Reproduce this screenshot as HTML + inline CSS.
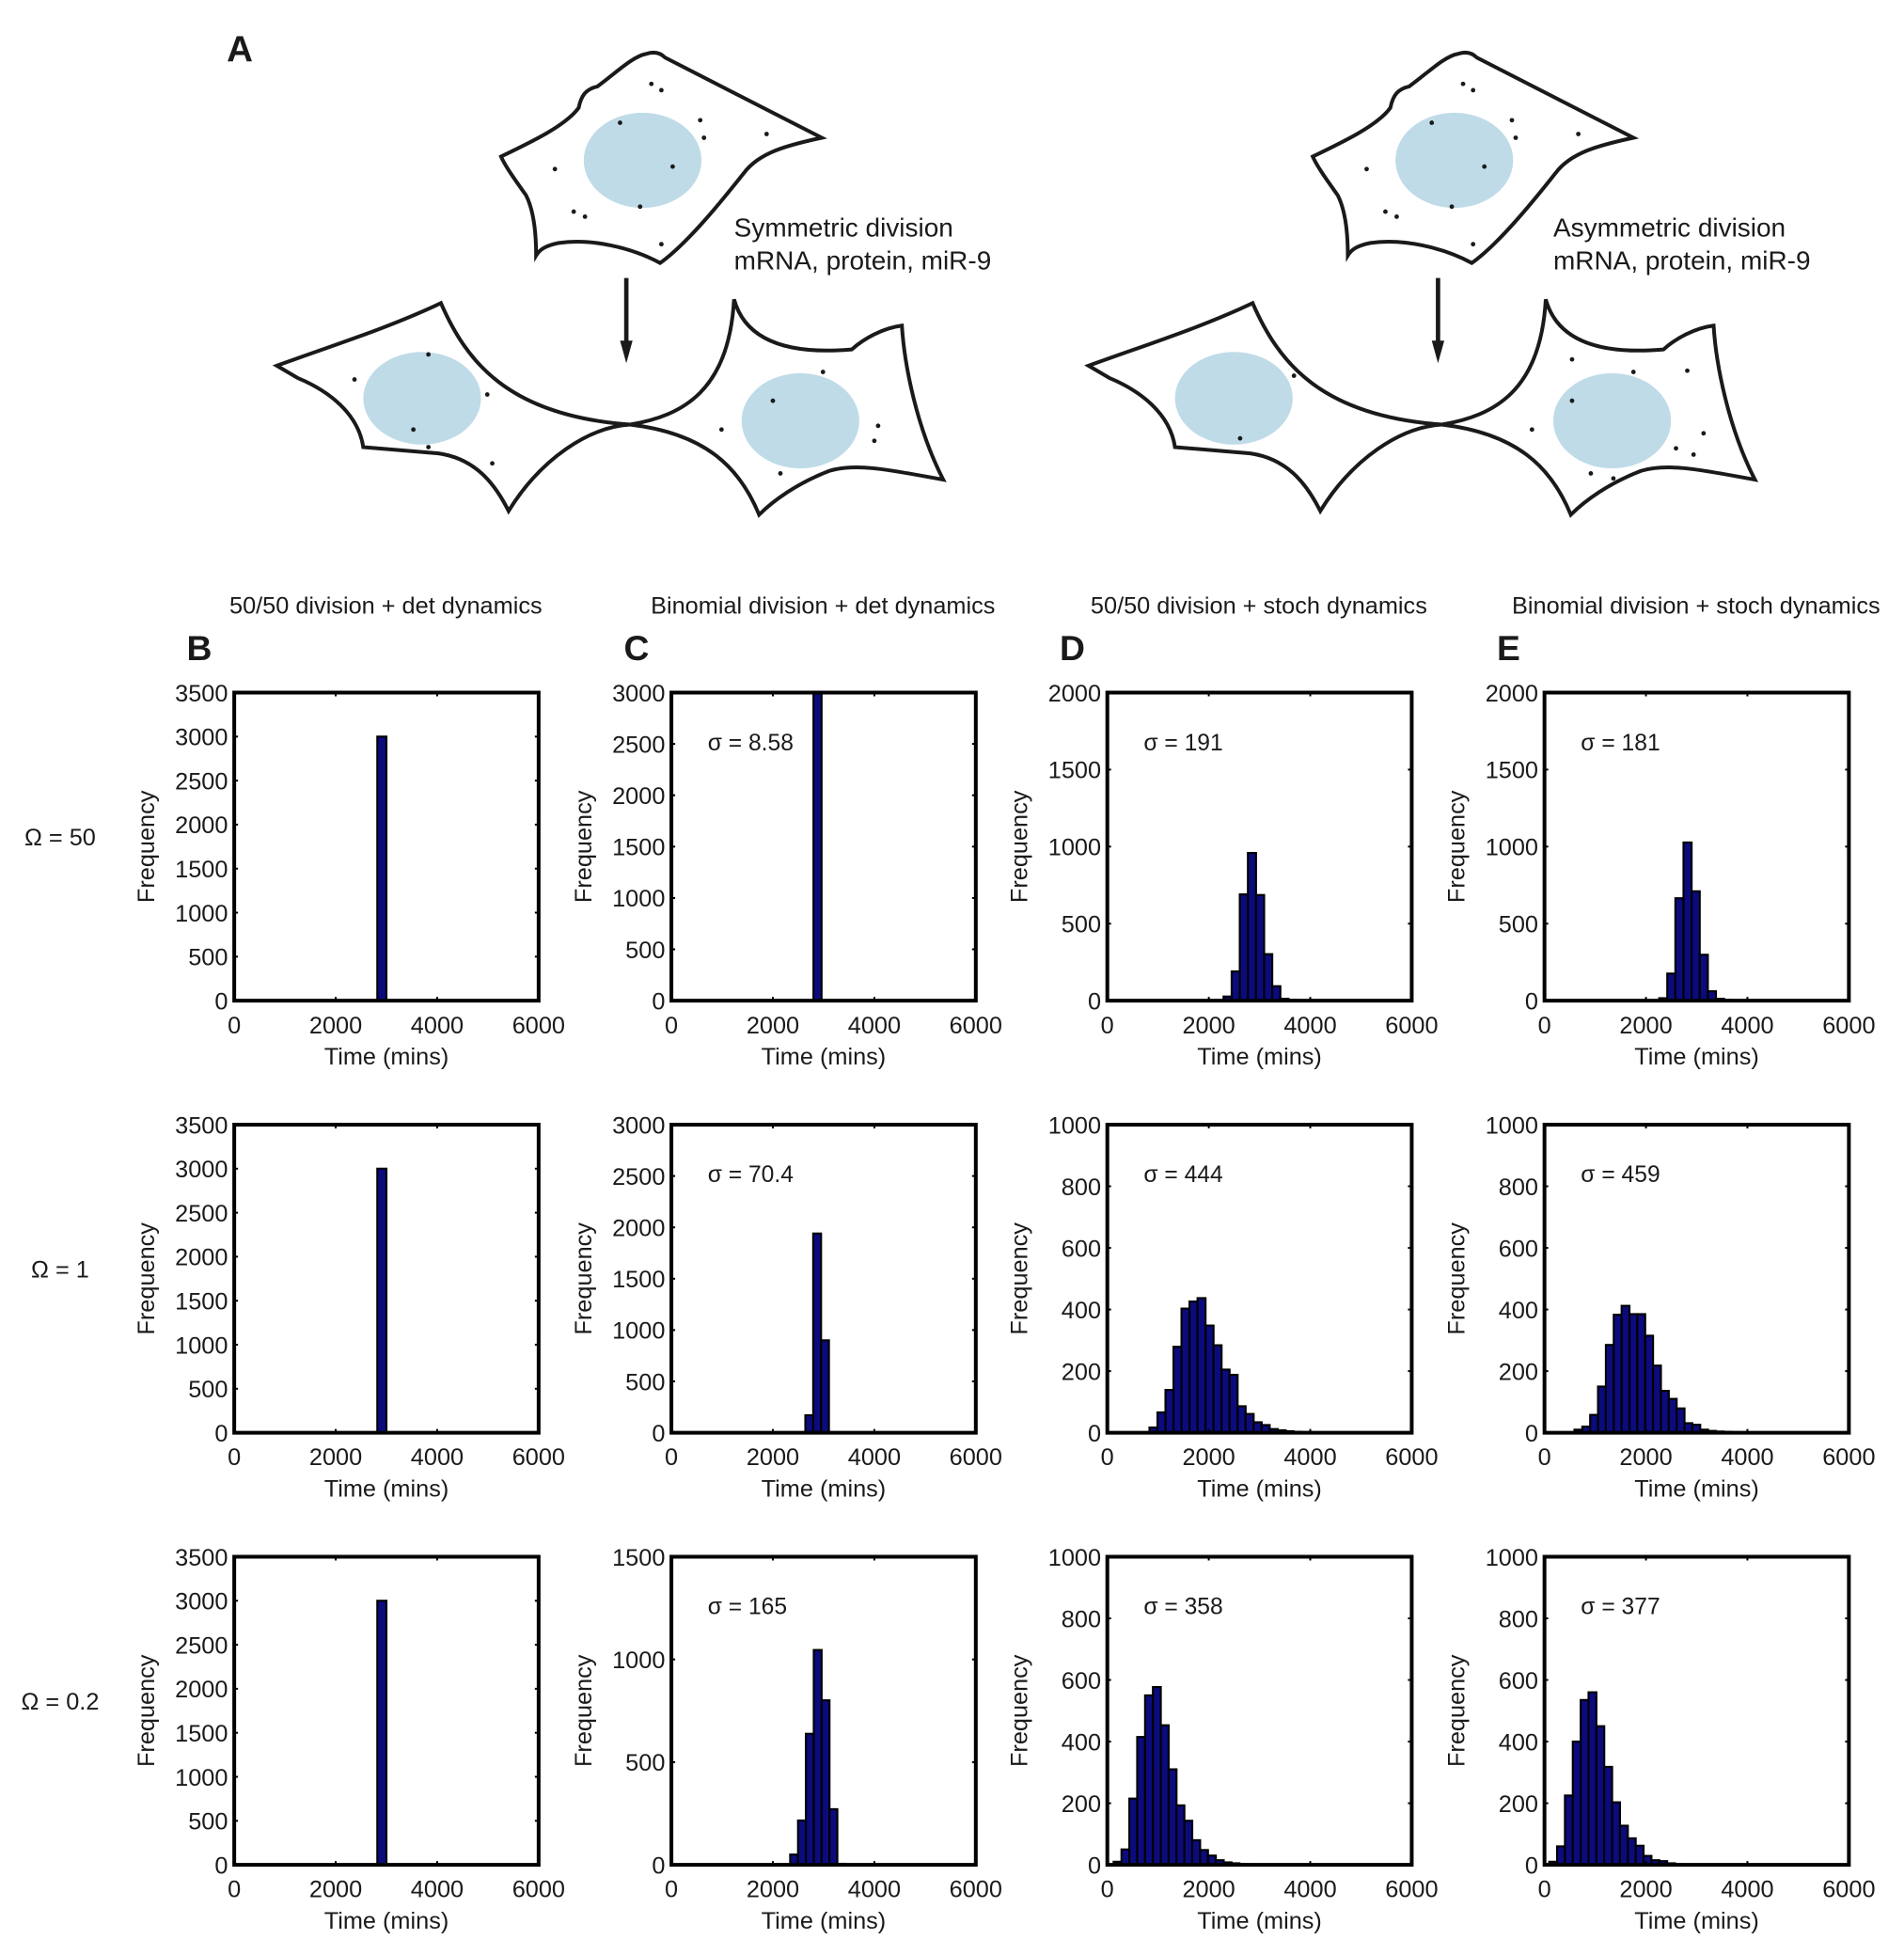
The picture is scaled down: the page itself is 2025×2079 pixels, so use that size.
<!DOCTYPE html>
<html><head><meta charset="utf-8"><style>
html,body{margin:0;padding:0;background:#fff;}
svg{display:block;}
text{font-family:"Liberation Sans",Arial,sans-serif;fill:#1a1a1a;}
</style></head><body>
<svg id="fig" width="2025" height="2079" viewBox="0 0 1520 1561" preserveAspectRatio="none" xmlns="http://www.w3.org/2000/svg">
<rect width="1520" height="1561" fill="#fff"/>
<text x="181" y="49" font-size="29" font-weight="bold">A</text>

<g id="sym" fill="#fff" stroke="#1a1a1a" stroke-width="3">
  <path d="M400,125 C425,113 452,100 462,86 C464,76 468,71 477,69 C492,58 505,45 516,43 C522,41 527,42 531,46 L656,110 C628,116 606,122 594,138 C575,162 548,195 527,210 C505,198 472,190 446,194 C436,196 431,199 428,204 C428,182 425,166 420,156 C410,142 403,132 400,125 Z"/>
  <ellipse cx="513" cy="128" rx="47" ry="38" fill="#bfdbe8" stroke="none"/>
  <path d="M221,292 C262,277 310,262 352,242 C372,288 405,332 503,339 C470,341 432,366 406,408 C394,384 378,366 350,362 L290,357 C286,330 262,312 238,302 Z"/>
  <ellipse cx="337" cy="318" rx="47" ry="37" fill="#bfdbe8" stroke="none"/>
  <path d="M503,339 C545,332 582,312 586,239 C594,268 622,284 680,279 C690,270 705,262 720,260 C722,292 732,342 753,383 C705,374 682,370 662,376 C636,386 617,400 606,411 C590,372 562,346 503,339 Z"/>
  <ellipse cx="639" cy="336" rx="47" ry="38" fill="#bfdbe8" stroke="none"/>
  <line x1="500" y1="222" x2="500" y2="275" stroke-width="3.5"/>
  <polygon points="495,272 505,272 500,290" fill="#1a1a1a" stroke="none"/>
</g>
<g id="symdots" fill="#1a1a1a"></g>
<text x="586" y="189" font-size="21">Symmetric division</text>
<text x="586" y="215" font-size="21">mRNA, protein, miR-9</text>

<use href="#sym" x="648" y="0"/>
<g id="asymdots" fill="#1a1a1a"></g>
<text x="1240" y="189" font-size="21">Asymmetric division</text>
<text x="1240" y="215" font-size="21">mRNA, protein, miR-9</text>

<g id="charts"></g>
</svg>
<script>
// ---- Panel A dots ----
const symDots = [[520,67],[528,72],[495,98],[559,96],[562,110],[612,107],[443,135],[537,133],[458,169],[467,173],[511,165],[528,195],
 [342,283],[283,303],[389,315],[330,343],[342,357],[393,370],[657,297],[617,320],[576,343],[701,340],[698,352],[623,378]];
const asymDots = [[1168,67],[1176,72],[1143,98],[1207,96],[1210,110],[1260,107],[1091,135],[1185,133],[1106,169],[1115,173],[1159,165],[1176,195],
 [1033,300],[990,350],[1255,287],[1304,297],[1347,296],[1255,320],[1223,343],[1338,358],[1352,363],[1360,346],[1270,378],[1288,382]];
const NS='http://www.w3.org/2000/svg';
function mk(tag, attrs, parent){const e=document.createElementNS(NS,tag);for(const k in attrs)e.setAttribute(k,attrs[k]);parent.appendChild(e);return e;}
[[symDots,'symdots'],[asymDots,'asymdots']].forEach(([arr,id])=>{
  const g=document.getElementById(id);
  arr.forEach(p=>{const c=mk('circle',{cx:p[0],cy:p[1],r:1.8},g);
    
    });
});

// ---- Histogram data (time in mins) ----
const xTicks = [0,2000,4000,6000];
const colTitles = ['50/50 division + det dynamics','Binomial division + det dynamics','50/50 division + stoch dynamics','Binomial division + stoch dynamics'];
const colLetters = ['B','C','D','E'];
const rowLabels = ['\u03A9 = 50','\u03A9 = 1','\u03A9 = 0.2'];
const yMaxB = [3500,3500,3500];
const yMaxC = [3000,3000,1500];
const yMaxD = [2000,1000,1000];
const yMaxE = [2000,1000,1000];
const yStepB = [500,500,500];
const yStepC = [500,500,500];
const yStepD = [500,200,200];
const yStepE = [500,200,200];
const sigmaC = ['8.58','70.4','165'];
const sigmaD = ['191','444','358'];
const sigmaE = ['181','459','377'];
// bin start, bin width, counts
const startB = [2820,2820,2820];
const widthB = [180,180,180];
const countsB1 = [3000];
const countsB2 = [3000];
const countsB3 = [3000];
const startC = [2800,2640,2186];
const widthC = [160,155,155];
const countsC1 = [3000];
const countsC2 = [170,1940,900];
const countsC3 = [3,50,216,638,1046,801,271,5];
const startD = [2291,830,124];
const widthD = [160,158,155];
const countsD1 = [27,190,690,959,686,302,94,12,5];
const countsD2 = [17,66,139,279,403,426,437,348,284,205,188,86,61,34,25,12,8,5,3,2,1];
const countsD3 = [10,50,215,415,550,577,453,310,193,143,80,48,30,15,8,5,3,2];
const startE = [2260,590,93];
const widthE = [160,155,155];
const countsE1 = [16,176,665,1027,710,298,61,12,5];
const countsE2 = [10,20,58,150,285,383,412,385,385,315,218,136,110,79,31,26,10,6,4,3,2,1];
const countsE3 = [10,60,225,400,535,560,450,318,203,127,86,62,29,15,12,5,2];

const cols = [
 {yMax:yMaxB,yStep:yStepB,start:startB,width:widthB,counts:[countsB1,countsB2,countsB3],sigma:null},
 {yMax:yMaxC,yStep:yStepC,start:startC,width:widthC,counts:[countsC1,countsC2,countsC3],sigma:sigmaC},
 {yMax:yMaxD,yStep:yStepD,start:startD,width:widthD,counts:[countsD1,countsD2,countsD3],sigma:sigmaD},
 {yMax:yMaxE,yStep:yStepE,start:startE,width:widthE,counts:[countsE1,countsE2,countsE3],sigma:sigmaE}
];
const colX = [187,536,884,1233], rowY = [553,898,1243], PW = 243, PH = 246, XMAX = 6000;
const FS = 19;
const chartsG = document.getElementById('charts');

colTitles.forEach((t,i)=>{
  const e=mk('text',{x:colX[i]+121,y:490,'font-size':FS,'text-anchor':'middle'},chartsG); e.textContent=t;
  
  
  const l=mk('text',{x:colX[i]-38,y:527,'font-size':28,'font-weight':'bold'},chartsG); l.textContent=colLetters[i];
  
  
});
rowLabels.forEach((t,r)=>{
  const e=mk('text',{x:48,y:rowY[r]+122,'font-size':FS,'text-anchor':'middle'},chartsG); e.textContent=t;
  
  
});

cols.forEach((c,ci)=>{
  for(let r=0;r<3;r++){
    const x0=colX[ci], y0=rowY[r];
    const ymax=c.yMax[r];
    const sx=v=>x0+v/XMAX*PW;
    const sy=v=>y0+PH-v/ymax*PH;
    const g=mk('g',{},chartsG);
    
    
    mk('rect',{x:x0,y:y0,width:PW,height:PH,fill:'#fff',stroke:'none'},g);
    const cnts=c.counts[r];
    cnts.forEach((v,k)=>{
      const a=c.start[r]+k*c.width[r], b=a+c.width[r];
      const bar=mk('rect',{x:sx(a),y:sy(v),width:sx(b)-sx(a),height:sy(0)-sy(v),fill:'#0b0b7e',stroke:'#000','stroke-width':1.6},g);
      
      
    });
    const tl=3;
    xTicks.forEach(t=>{
      mk('line',{x1:sx(t),x2:sx(t),y1:y0+PH,y2:y0+PH-tl,stroke:'#000','stroke-width':1.5},g);
      mk('line',{x1:sx(t),x2:sx(t),y1:y0,y2:y0+tl,stroke:'#000','stroke-width':1.5},g);
      const tx=mk('text',{x:sx(t),y:y0+PH+26,'font-size':FS,'text-anchor':'middle'},g); tx.textContent=t;
      
      
    });
    for(let v=0; v<=ymax+0.001; v+=c.yStep[r]){
      mk('line',{x1:x0,x2:x0+tl,y1:sy(v),y2:sy(v),stroke:'#000','stroke-width':1.5},g);
      mk('line',{x1:x0+PW,x2:x0+PW-tl,y1:sy(v),y2:sy(v),stroke:'#000','stroke-width':1.5},g);
      const ty=mk('text',{x:x0-5,y:sy(v)+7,'font-size':FS,'text-anchor':'end'},g); ty.textContent=v;
      
      
    }
    mk('rect',{x:x0,y:y0,width:PW,height:PH,fill:'none',stroke:'#000','stroke-width':3},g);
    const xl=mk('text',{x:x0+PW/2,y:y0+PH+51,'font-size':FS,'text-anchor':'middle'},g); xl.textContent='Time (mins)';
    
    
    const yl=mk('text',{x:0,y:0,'font-size':FS,'text-anchor':'middle',transform:`translate(${x0-64},${y0+PH/2}) rotate(-90)`},g); yl.textContent='Frequency';
    
    
    if(c.sigma){
      const s=mk('text',{x:x0+29,y:y0+46,'font-size':18.5},g); s.textContent='\u03C3 = '+c.sigma[r];
      
      
    }
  }
});
</script>
</body></html>
